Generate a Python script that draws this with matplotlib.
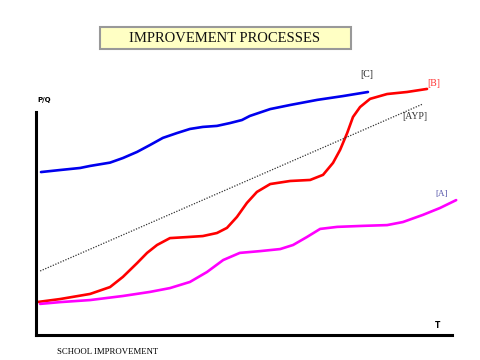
import numpy as np
import matplotlib
matplotlib.use("Agg")
import matplotlib.pyplot as plt
from matplotlib.patches import Rectangle

# curves (T along x, P/Q along y, both on a 0-100 scale)
c_t = [1.2, 5.8, 10.6, 13.0, 17.8, 20.9, 24.3, 27.4, 30.5, 33.9, 37.0, 40.1, 43.5,
       46.6, 49.5, 51.4, 56.3, 61.1, 67.6, 73.8, 79.8]
c_pq = [63.9, 64.7, 65.5, 66.3, 67.6, 69.4, 71.8, 74.5, 77.3, 79.2, 80.8, 81.6, 82.0,
        83.1, 84.3, 85.9, 88.6, 90.2, 92.2, 93.7, 95.3]

b_t = [0.2, 5.8, 13.0, 17.8, 20.9, 24.3, 26.7, 29.1, 32.2, 36.3, 40.1, 43.5, 45.9,
       48.3, 50.7, 53.1, 56.3, 61.1, 65.9, 69.0, 71.4, 73.1, 74.8, 76.2, 77.9, 80.3,
       84.4, 89.2, 94.0]
b_pq = [12.9, 14.1, 16.1, 18.8, 22.8, 28.2, 32.2, 35.3, 38.0, 38.4, 38.8, 40.0, 42.0,
        46.3, 51.8, 56.1, 59.2, 60.4, 60.8, 62.8, 67.5, 72.6, 79.2, 85.5, 89.4, 92.6,
        94.5, 95.3, 96.5]

a_t = [1.0, 5.8, 13.0, 20.9, 27.4, 32.2, 37.0, 41.1, 45.0, 49.0, 53.9, 58.7, 61.8,
       65.1, 68.3, 72.4, 78.6, 84.4, 88.2, 93.0, 97.1, 101.0]
a_pq = [12.2, 12.9, 13.7, 15.3, 16.9, 18.4, 20.8, 24.7, 29.4, 32.2, 32.9, 33.7, 35.3,
        38.4, 41.6, 42.4, 42.8, 43.1, 44.3, 47.1, 49.8, 52.9]

ayp_t = [1.0, 93.0]
ayp_pq = [25.1, 90.6]

fig = plt.figure(figsize=(4.8, 3.6), dpi=100)
ax = fig.add_axes([36 / 480, 25 / 360, 105 * 4.16 / 480, 255 / 360])
ax.set_xlim(0, 105)
ax.set_ylim(0, 100)

kw = dict(lw=1.9, clip_on=False, solid_capstyle="round", solid_joinstyle="round")
ax.plot(c_t, c_pq, color="#0000ee", **kw)
ax.plot(b_t, b_pq, color="#ff0000", **kw)
ax.plot(a_t, a_pq, color="#ff00ff", **kw)
ax.plot(ayp_t, ayp_pq, color="#333333", lw=0.9, ls=(0, (1, 1.2)), clip_on=False)

# labels
ax.text(79.6, 102, "[C]", color="#222222", fontsize=7, family="Liberation Serif",
        ha="center", va="center")
ax.text(94.0, 98.5, "[B]", color="#ff3333", fontsize=7, family="Liberation Serif",
        ha="left", va="center")
ax.text(91.1, 85.5, "[AYP]", color="#333333", fontsize=7, family="Liberation Serif",
        ha="center", va="center")
ax.text(97.4, 55.3, "[A]", color="#5555aa", fontsize=6.5, family="Liberation Serif",
        ha="center", va="center")

# axes
for s in ["top", "right"]:
    ax.spines[s].set_visible(False)
ax.spines["left"].set_linewidth(2.2)
ax.spines["bottom"].set_linewidth(2.2)
ax.spines["left"].set_bounds(0, 87.5)
ax.spines["bottom"].set_bounds(0, 100)
ax.set_xticks([])
ax.set_yticks([])
ax.patch.set_visible(False)

fig.text(37 / 480, 1 - 100 / 360, "P/Q", fontsize=5, fontweight="bold", ha="left", va="center")
fig.text(438 / 480, 1 - 325 / 360, "T", fontsize=5.5, fontweight="bold", ha="center", va="center")
fig.text(57 / 480, 1 - 352 / 360, "SCHOOL IMPROVEMENT", fontsize=6.3, family="Liberation Serif",
         ha="left", va="center")

# title box
fig.patches.append(Rectangle((100 / 480, 1 - 49 / 360), 251 / 480, 22 / 360,
                             transform=fig.transFigure, facecolor="#ffffc4",
                             edgecolor="#999999", lw=1.5))
fig.text(225 / 480, 1 - 38 / 360, "IMPROVEMENT PROCESSES", fontsize=10.5,
         family="Liberation Serif", ha="center", va="center", color="#111111")

fig.savefig("out.png", dpi=100)
